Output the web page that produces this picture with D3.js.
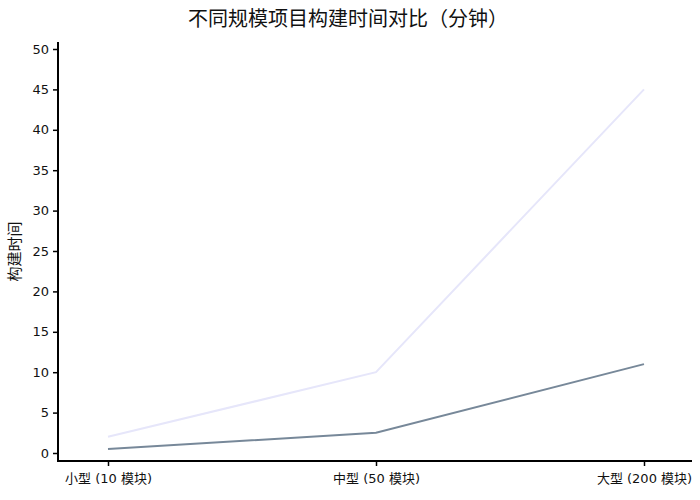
<!DOCTYPE html>
<html>
<head>
<meta charset="utf-8">
<script src="https://cdn.jsdelivr.net/npm/d3@7"></script>
<style>
  body { margin: 0; background: #fff; }
  text { font-family: "DejaVu Sans", "Noto Sans CJK SC", sans-serif; }
</style>
</head>
<body>
<svg id="chart" width="700" height="500"></svg>
<script>
const categories = ["小型 (10 模块)", "中型 (50 模块)", "大型 (200 模块)"];
const seriesA = [2, 10, 45];     // light line
const seriesB = [0.5, 2.5, 11];  // dark line
const yTicks = [0, 5, 10, 15, 20, 25, 30, 35, 40, 45, 50];
const title = "不同规模项目构建时间对比（分钟）";
const yLabel = "构建时间";

const svg = d3.select("#chart");
const plot = { left: 58, right: 692, top: 42, bottom: 461 };

const x = d3.scalePoint().domain(categories).range([108, 644]);
const y = d3.scaleLinear().domain([0, 50]).range([453, 49]);

// title
svg.append("text")
  .attr("x", 348).attr("y", 26)
  .attr("text-anchor", "middle")
  .attr("font-size", 20)
  .attr("fill", "#111")
  .text(title);

// y axis label
svg.append("text")
  .attr("transform", `translate(20,${(plot.top + plot.bottom) / 2}) rotate(-90)`)
  .attr("text-anchor", "middle")
  .attr("font-size", 15)
  .attr("fill", "#111")
  .text(yLabel);

// lines
const line = d3.line().x((d, i) => x(categories[i])).y(d => y(d));
svg.append("path").datum(seriesA)
  .attr("d", line).attr("fill", "none")
  .attr("stroke", "#e6e6fa").attr("stroke-width", 2);
svg.append("path").datum(seriesB)
  .attr("d", line).attr("fill", "none")
  .attr("stroke", "#778899").attr("stroke-width", 2);

// y axis
const yAxis = svg.append("g")
  .attr("transform", `translate(${plot.left},0)`)
  .call(d3.axisLeft(y).tickValues(yTicks).tickSize(5).tickPadding(4).tickSizeOuter(0));
yAxis.select(".domain").remove();
yAxis.append("line").attr("x1", 0).attr("x2", 0)
  .attr("y1", plot.top).attr("y2", plot.bottom + 1)
  .attr("stroke", "#000").attr("stroke-width", 2);
yAxis.selectAll(".tick line").attr("stroke", "#000").attr("stroke-width", 1.5);
yAxis.selectAll(".tick text").attr("font-size", 13).attr("fill", "#111")
  .style("font-family", '"DejaVu Sans", "Noto Sans CJK SC", sans-serif');

// x axis
const xAxis = svg.append("g")
  .attr("transform", `translate(0,${plot.bottom})`)
  .call(d3.axisBottom(x).tickSize(5).tickPadding(8).tickSizeOuter(0));
xAxis.select(".domain").remove();
xAxis.append("line").attr("x1", plot.left - 1).attr("x2", plot.right)
  .attr("y1", 0).attr("y2", 0)
  .attr("stroke", "#000").attr("stroke-width", 2);
xAxis.selectAll(".tick line").attr("stroke", "#000").attr("stroke-width", 1.5);
xAxis.selectAll(".tick text").attr("font-size", 13).attr("fill", "#111")
  .style("font-family", '"DejaVu Sans", "Noto Sans CJK SC", sans-serif');
</script>
</body>
</html>
